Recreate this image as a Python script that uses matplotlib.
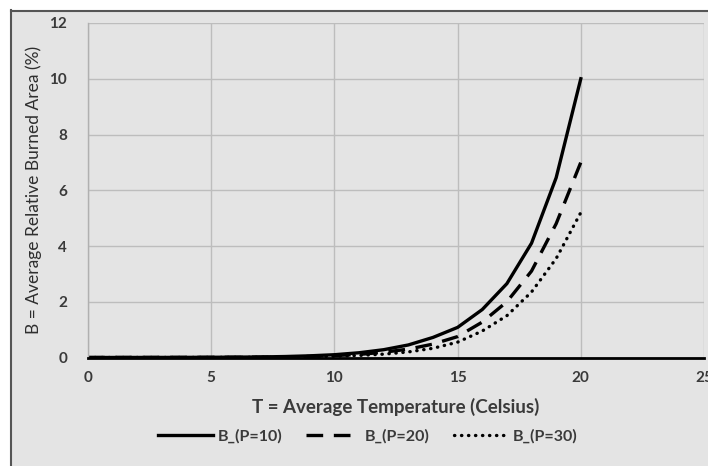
import matplotlib
matplotlib.use("Agg")
import matplotlib.pyplot as plt
from matplotlib.lines import Line2D
from matplotlib.patches import Rectangle

T = list(range(0, 21))
B_P10 = [0, 0.001, 0.002, 0.003, 0.005, 0.008, 0.013, 0.02, 0.035, 0.06, 0.1,
         0.17, 0.28, 0.45, 0.72, 1.08, 1.72, 2.65, 4.1, 6.45, 10.0]
B_P20 = [0, 0.001, 0.001, 0.002, 0.003, 0.005, 0.008, 0.013, 0.023, 0.04, 0.07,
         0.11, 0.19, 0.3, 0.48, 0.75, 1.27, 2.0, 3.1, 4.8, 7.0]
B_P30 = [0, 0.0, 0.001, 0.001, 0.002, 0.003, 0.005, 0.008, 0.014, 0.025, 0.045,
         0.075, 0.12, 0.2, 0.33, 0.55, 0.95, 1.5, 2.35, 3.55, 5.2]
labels = ["B_(P=10)", "B_(P=20)", "B_(P=30)"]
xticks = [0, 5, 10, 15, 20, 25]
yticks = [0, 2, 4, 6, 8, 10, 12]

BG = "#e4e4e4"
TXT = "#3a3a3a"
plt.rcParams['font.family'] = ['Lato', 'DejaVu Sans']

fig = plt.figure(figsize=(7.08, 4.66), dpi=100)
fig.patch.set_facecolor(BG)
# white margin strips and dark frame edges
fig.patches.append(Rectangle((0, 0), 10 / 708, 1, transform=fig.transFigure, facecolor="white", edgecolor="none", zorder=0))
fig.patches.append(Rectangle((0, 1 - 10 / 466), 1, 10 / 466, transform=fig.transFigure, facecolor="white", edgecolor="none", zorder=0))
fig.add_artist(Line2D([10.5 / 708, 10.5 / 708], [0, 1 - 10 / 466], transform=fig.transFigure, color="#555555", lw=1.5))
fig.add_artist(Line2D([10.5 / 708, 1], [1 - 10.5 / 466, 1 - 10.5 / 466], transform=fig.transFigure, color="#555555", lw=1.5))

ax = fig.add_axes([88 / 708, 1 - 357.5 / 466, (704 - 88) / 708, (357.5 - 23) / 466])
ax.set_facecolor(BG)

l1, = ax.plot(T, B_P10, color="black", lw=2.4, linestyle="-", solid_joinstyle="round")
l2, = ax.plot(T, B_P20, color="black", lw=2.4, linestyle=(0, (5, 3.2)))
l3, = ax.plot(T, B_P30, color="black", lw=2.4, linestyle=(0, (0.1, 2.0)), dash_capstyle="round")

ax.set_xlim(0, 25)
ax.set_ylim(0, 12)
ax.set_xticks(xticks)
ax.set_yticks(yticks)
ax.grid(True, color="#bdbdbd", lw=1.0)
ax.set_axisbelow(True)
for s in ["top", "right"]:
    ax.spines[s].set_visible(False)
ax.spines["left"].set_color("#b0b0b0")
ax.spines["left"].set_linewidth(1.0)
ax.spines["bottom"].set_color("black")
ax.spines["bottom"].set_linewidth(2.0)
ax.tick_params(axis="both", length=0, labelsize=11, colors=TXT, pad=10)
for lab in ax.get_xticklabels() + ax.get_yticklabels():
    lab.set_fontweight("bold")
ax.tick_params(axis="y", pad=15)

ax.set_xlabel("T = Average Temperature (Celsius)", fontsize=13.5, fontweight="bold", color=TXT, labelpad=9)
ax.set_ylabel("B = Average Relative Burned Area (%)", fontsize=12.5, color="#2e2e2e", labelpad=5)

leg = fig.legend([l1, l2, l3], labels, loc="center", bbox_to_anchor=(368 / 708, 1 - 436 / 466),
                 ncol=3, frameon=False, fontsize=11.5, handlelength=3.4, columnspacing=1.5, handletextpad=0.3)
for t in leg.get_texts():
    t.set_fontweight("bold")
    t.set_color(TXT)

fig.savefig("out.png", dpi=100, facecolor=fig.get_facecolor())
